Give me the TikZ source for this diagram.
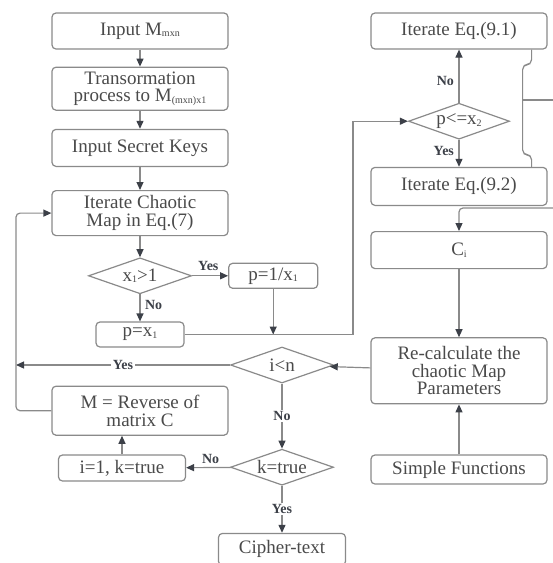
\documentclass[tikz,border=0pt]{standalone}
\usepackage{fontspec}
\setmainfont{Liberation Serif}
\usetikzlibrary{arrows.meta,positioning,shapes.geometric}
\definecolor{linegray}{HTML}{8A8A8A}
\definecolor{tipgray}{HTML}{3C4048}
\definecolor{txtgray}{HTML}{4A4A4A}
\newcommand\sub[1]{\raisebox{-1.5pt}{\fontsize{10}{10}\selectfont #1}}
\begin{document}
\begin{tikzpicture}[
        x=1pt, y=-1pt,
        box/.style={draw=linegray, line width=1.2pt, rounded corners=4pt, fill=white, align=center, minimum width=176pt, inner sep=2pt, text=txtgray, font=\fontsize{19}{17.5}\selectfont},
        small/.style={box, minimum width=88pt, minimum height=25pt},
        dec/.style={draw=linegray, line width=1.2pt, diamond, aspect=2.8, fill=white, inner sep=0pt, minimum width=103pt, minimum height=36pt, text=txtgray, font=\fontsize{19}{17.5}\selectfont},
        arr/.style={-{Triangle[length=8pt, width=7pt, color=tipgray]}, draw=linegray, line width=1.2pt},
        ln/.style={draw=linegray, line width=1.2pt},
        lbl/.style={font=\fontsize{14}{14}\selectfont\bfseries, text=tipgray, inner sep=1.5pt},
    ]
        \useasboundingbox (0,0) rectangle (553,563);
        \clip (0,0) rectangle (553,563);
        % left column
        \node[box, minimum height=36pt] (inp) at (140,31) {Input M\sub{mxn}};
        \node[box, minimum height=43pt, below=17pt of inp] (trans) {Transormation\\process to M\sub{(mxn)x1}};
        \node[box, minimum height=37pt, below=18pt of trans] (keys) {Input Secret Keys};
        \node[box, minimum height=45pt, below=23pt of keys] (iter) {Iterate Chaotic\\Map in Eq.(7)};
        \node[dec, below=21pt of iter] (dx) {x\sub{1}>1};
        \node[small, below=27pt of dx] (px) {p=x\sub{1}};
        \node[small, minimum width=89pt, right=36pt of dx] (pinv) {p=1/x\sub{1}};
        \node[box, minimum height=49pt, below=38pt of px] (rev) {M = Reverse of\\matrix C};
        \node[small, minimum width=127pt, minimum height=26pt] (reset) at (122,468) {i=1, k=true};
        % middle column
        \node[dec] (dn) at (282,365) {i<n};
        \node[dec, below=65pt of dn] (dk) {k=true};
        \node[box, minimum width=127pt, minimum height=32pt, below=47pt of dk] (out) {Cipher-text};
        % right column
        \node[box, minimum height=36pt] (eq1) at (459,31) {Iterate Eq.(9.1)};
        \node[dec, minimum width=101pt, below=53pt of eq1] (dp) {p<=x\sub{2}};
        \node[box, minimum height=38pt, below=27pt of dp] (eq2) {Iterate Eq.(9.2)};
        \node[box, minimum height=37pt, below=25pt of eq2] (ci) {C\sub{i}};
        \node[box, minimum height=66pt, below=68pt of ci] (recalc) {Re-calculate the\\chaotic Map\\Parameters};
        \node[box, minimum height=29pt, below=50pt of recalc] (simple) {Simple Functions};
        \coordinate (offa) at (553,100);
        \coordinate (offb) at (553,208);
        \coordinate (loop) at (16,365);
        % connectors
        \draw[arr] (inp) -- (trans);
        \draw[arr] (trans) -- (keys);
        \draw[arr] (keys) -- (iter);
        \draw[arr] (iter) -- (dx);
        \draw[arr] (dx) -- node[lbl, above=3pt, pos=0.45] {Yes} (pinv);
        \draw[arr] (dx) -- node[lbl, right=3pt, pos=0.4] {No} (px);
        \draw[arr] (pinv.south) -- (pinv.south |- px.east);
        \draw[arr] (px.east) -| ([xshift=-55pt]dp.west) -- (dp.west);
        \draw[arr] (dp) -- node[lbl, left=3pt, pos=0.4] {No} (eq1);
        \draw[arr] (dp) -- node[lbl, left=3pt, pos=0.4] {Yes} (eq2);
        \draw[ln, rounded corners=5pt] ([xshift=-16pt]eq1.south east) -- ++(0,15) -| ([xshift=-25pt]eq2.north east |- offa) |- ([xshift=-16pt,yshift=12pt]eq2.north east) -- ([xshift=-16pt]eq2.north east);
        \draw[ln] ([xshift=-25pt]eq2.north east |- offa) -- (offa);
        \draw[arr, rounded corners=4pt] (offb) -| (ci.north);
        \draw[arr] (ci) -- (recalc);
        \draw[arr] (simple) -- (recalc);
        \draw[arr] (recalc) -- (dn);
        \draw[arr] (dn.west) -- node[lbl, fill=white] {Yes} (loop);
        \draw[arr, rounded corners=4pt] (rev.west) -| (loop) |- (iter.west);
        \draw[arr] (dn) -- node[lbl, fill=white] {No} (dk);
        \draw[arr] (dk) -- node[lbl, above=2pt, pos=0.45] {No} (reset);
        \draw[arr] (reset) -- (rev.south -| reset.north);
        \draw[arr] (dk) -- node[lbl, fill=white] {Yes} (out);
    \end{tikzpicture}
\end{document}
